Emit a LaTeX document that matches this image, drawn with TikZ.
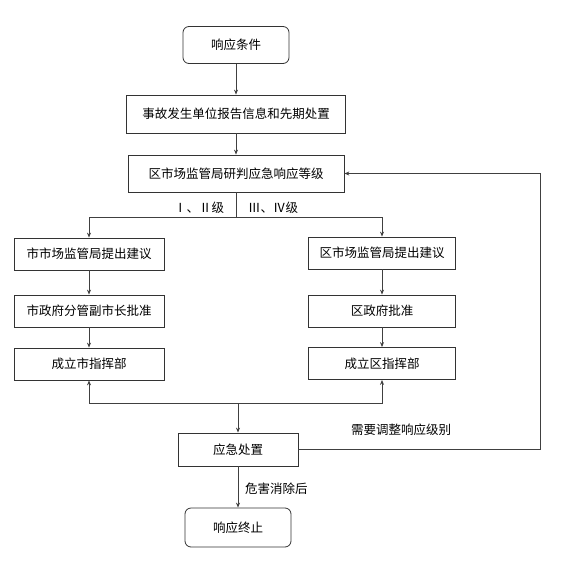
\documentclass[tikz,border=0pt]{standalone}
\usepackage{fontspec}
\setmainfont{Noto Sans CJK SC}
\usetikzlibrary{arrows.meta}
\begin{document}
\begin{tikzpicture}[x=1pt,y=-1pt,
  every node/.style={font=\fontsize{12.5}{14}\selectfont, inner sep=0pt},
  box/.style={draw=black!80, line width=0.8pt, fill=white, align=center},
  rbox/.style={box, rounded corners=6pt},
  arr/.style={draw=black!75, line width=0.8pt, -{Stealth[length=5pt,width=4pt]}},
  ln/.style={draw=black!75, line width=0.8pt},
  lbl/.style={font=\fontsize{12.5}{14}\selectfont}]
\useasboundingbox (0,0) rectangle (566,570);
\node[rbox, minimum width=106pt, minimum height=37pt] (top) at (236,45) {响应条件};
\node[box, minimum width=219pt, minimum height=38pt] (b2) at (236,114) {事故发生单位报告信息和先期处置};
\node[box, minimum width=216pt, minimum height=37pt] (b3) at (236,173.5) {区市场监管局研判应急响应等级};
\node[box, minimum width=150pt, minimum height=32pt] (l1) at (89,254) {市市场监管局提出建议};
\node[box, minimum width=150pt, minimum height=32pt] (l2) at (89,311) {市政府分管副市长批准};
\node[box, minimum width=150pt, minimum height=32pt] (l3) at (89,364) {成立市指挥部};
\node[box, minimum width=147pt, minimum height=32pt] (r1) at (382,253) {区市场监管局提出建议};
\node[box, minimum width=147pt, minimum height=32pt] (r2) at (382,311) {区政府批准};
\node[box, minimum width=147pt, minimum height=32pt] (r3) at (382,363.5) {成立区指挥部};
\node[box, minimum width=120pt, minimum height=33pt] (yj) at (238,449.5) {应急处置};
\node[rbox, minimum width=106pt, minimum height=39pt] (end) at (238,527.5) {响应终止};
\coordinate (split) at (236,217);
\coordinate (join) at (238,403);
\coordinate (rt) at (540,0);
\node[lbl] (lab1) at (199,208) {Ⅰ、Ⅱ级};
\node[lbl] (lab2) at (273,208) {Ⅲ、Ⅳ级};
\node[lbl] (lab3) at (401,430) {需要调整响应级别};
\node[lbl, anchor=west] (lab4) at (245,489) {危害消除后};
\draw[arr] (top) -- (b2);
\draw[arr] (b2) -- (b3);
\draw[ln] (b3) -- (split);
\draw[arr] (split) -| (l1);
\draw[arr] (split) -| (r1);
\draw[arr] (l1) -- (l2);
\draw[arr] (l2) -- (l3);
\draw[arr] (r1) -- (r2);
\draw[arr] (r2) -- (r3);
\draw[arr] (join) -| (l3);
\draw[arr] (join) -| (r3);
\draw[arr] (join) -- (yj);
\draw[arr] (yj.east) -- (yj.east -| rt) -- (b3.east -| rt) -- (b3.east);
\draw[arr] (yj) -- (end);
\end{tikzpicture}
\end{document}
